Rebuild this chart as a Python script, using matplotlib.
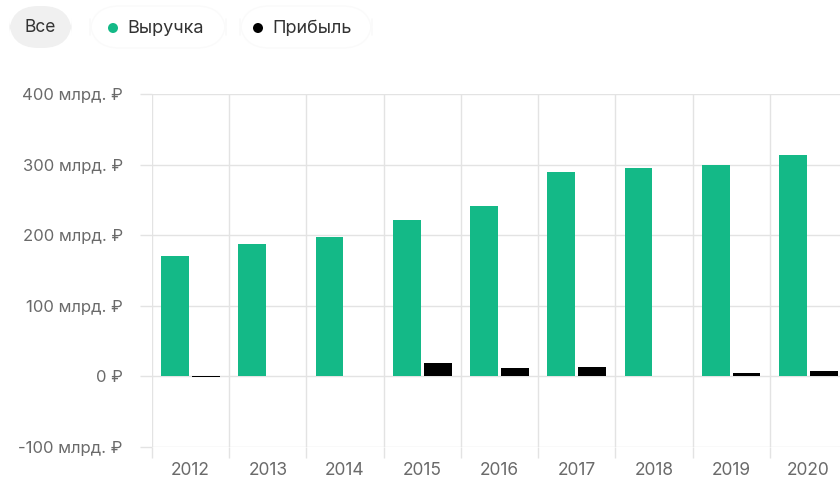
import matplotlib.pyplot as plt
from matplotlib.patches import FancyBboxPatch, Ellipse
from matplotlib.ticker import FixedLocator

plt.rcParams['font.family'] = ['Inter', 'DejaVu Sans']

years = ['2012', '2013', '2014', '2015', '2016', '2017', '2018', '2019', '2020']
revenue = [171, 187, 198, 221, 241, 290, 295, 299, 313]
profit = [-1.5, 0.8, 0.6, 19, 11.5, 13, 1.2, 5.5, 8]
yticks = [-100, 0, 100, 200, 300, 400]

green = '#14b987'
grid_c = '#e3e3e3'
text_c = '#6a6a6a'

W, H = 840, 483
fig = plt.figure(figsize=(8.4, 4.83), dpi=100)
ax = fig.add_axes([152 / W, 1 - 447 / H, 1 - 152 / W, (447 - 94) / H])

x = list(range(len(years)))
ax.bar([i - 0.2 for i in x], revenue, width=0.36, color=green, zorder=3)
ax.bar([i + 0.2 for i in x], profit, width=0.36, color='black', zorder=3)

ax.set_xlim(-0.5, 8.41)
ax.set_ylim(-100, 400)

ax.set_xticks(x)
ax.set_xticklabels(years)
ax.xaxis.set_minor_locator(FixedLocator([i - 0.5 for i in range(len(years) + 1)]))
ax.tick_params(axis='x', which='major', length=0, pad=11, labelsize=12.5, labelcolor=text_c)
ax.tick_params(axis='x', which='minor', length=8, width=1, color=grid_c)
ax.grid(True, axis='x', which='minor', color=grid_c, linewidth=1, zorder=0)

def fmt(v):
    return '0 ₽' if v == 0 else f'{v} млрд. ₽'

ax.set_yticks(yticks)
ax.set_yticklabels([fmt(v) for v in yticks])
ax.tick_params(axis='y', length=9, width=1, color=grid_c, pad=12, labelsize=12, labelcolor=text_c)
ax.grid(True, axis='y', color=grid_c, linewidth=1, zorder=0)

for s in ax.spines.values():
    s.set_visible(False)

# legend pills at the top
def fx(px):
    return px / W
def fy(py):
    return 1 - py / H

fig.patches.append(FancyBboxPatch((fx(9), fy(48)), fx(63), 42 / H,
                                  boxstyle='round,pad=0,rounding_size=0.035',
                                  transform=fig.transFigure, facecolor='#f0f0f0',
                                  edgecolor='none', mutation_aspect=W / H))
for left, width in [(90, 136), (240, 132)]:
    fig.patches.append(FancyBboxPatch((fx(left), fy(48)), fx(width), 42 / H,
                                      boxstyle='round,pad=0,rounding_size=0.035',
                                      transform=fig.transFigure, facecolor='white',
                                      edgecolor='#fafafa', linewidth=1,
                                      mutation_aspect=W / H))

fig.text(fx(40), fy(28), 'Все', ha='center', va='center', fontsize=12.5, color='#333333')

fig.patches.append(Ellipse((fx(113), fy(28)), 10 / W, 10 / H, transform=fig.transFigure,
                           facecolor=green, edgecolor='none'))
fig.text(fx(127), fy(28), 'Выручка', ha='left', va='center', fontsize=13, color='#333333')

fig.patches.append(Ellipse((fx(258), fy(28)), 10 / W, 10 / H, transform=fig.transFigure,
                           facecolor='black', edgecolor='none'))
fig.text(fx(272), fy(28), 'Прибыль', ha='left', va='center', fontsize=13, color='#333333')

plt.savefig('out.png', dpi=100)
